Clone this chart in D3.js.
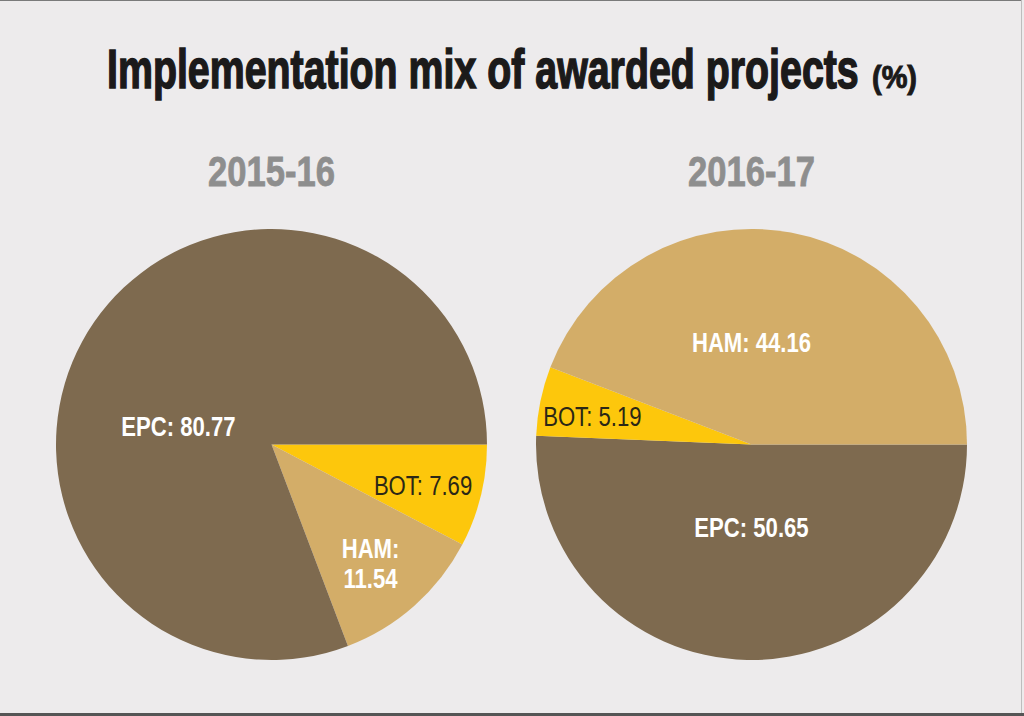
<!DOCTYPE html>
<html>
<head>
<meta charset="utf-8">
<script src="https://cdn.jsdelivr.net/npm/d3@7"></script>
<style>
  html, body { margin: 0; padding: 0; background: #edebec; }
  svg { display: block; }
  text { font-family: "Liberation Sans", Arial, sans-serif; }
</style>
</head>
<body>
<div id="chart"></div>
<script>
// data
const categories = ["EPC", "HAM", "BOT"];
const years = ["2015-16", "2016-17"];
const share2015 = [80.77, 11.54, 7.69];
const share2016 = [50.65, 44.16, 5.19];
// clockwise order of the slices, starting at 3 o'clock
const sliceOrder2015 = ["BOT", "HAM", "EPC"];
const sliceOrder2016 = ["EPC", "BOT", "HAM"];

const width = 1024, height = 716;
const radius = 215.5;
const pieCenters = [271.5, 751.5];
const pieY = 444.5;
const narrow = 0.79;   // fake a condensed face

const color = d3.scaleOrdinal()
  .domain(categories)
  .range(["#7e6a4f", "#d3ad68", "#fdc70c"]);

// label spots: [angle in degrees from 12 o'clock, fraction of radius]
const labelSpots = [
  { EPC: [281, 0.44], HAM: [140, 0.715], BOT: [105, 0.728] },
  { EPC: [180, 0.385], HAM: [0, 0.475], BOT: [280, 0.75] }
];
const twoLine = [{ HAM: true }, {}];

const svg = d3.select("#chart")
  .append("svg")
    .attr("width", width)
    .attr("height", height);

svg.append("rect")
  .attr("width", width)
  .attr("height", height)
  .attr("fill", "#edebec");

// frame
svg.append("line").attr("x1", 0).attr("x2", 1022).attr("y1", 0.5).attr("y2", 0.5)
  .attr("stroke", "#7a7a7a");
svg.append("line").attr("x1", 1021.5).attr("x2", 1021.5).attr("y1", 0).attr("y2", 716)
  .attr("stroke", "#bdbdbd");
svg.append("rect").attr("x", 0).attr("y", 713).attr("width", 1024).attr("height", 3)
  .attr("fill", "#555");

// squeeze a text horizontally so it spans w pixels from its anchor
function squeeze(g, t, x, y, w) {
  const natural = t.node().getComputedTextLength();
  g.attr("transform", `translate(${x},${y}) scale(${w / natural},1)`);
}

// title
const tg = svg.append("g");
const tt = tg.append("text")
  .attr("font-size", 56)
  .attr("fill", "#1b1a1a")
  .attr("stroke", "#1b1a1a")
  .attr("stroke-width", 1.6)
  .style("font-weight", "bold")
  .text("Implementation mix of awarded projects");
squeeze(tg, tt, 107, 88, 752);

const pg = svg.append("g");
const pt = pg.append("text")
  .attr("font-size", 31)
  .attr("fill", "#1b1a1a")
  .attr("stroke", "#1b1a1a")
  .attr("stroke-width", 1)
  .style("font-weight", "bold")
  .text("(%)");
squeeze(pg, pt, 872, 88, 45);

const pie = d3.pie()
  .value(d => d.value)
  .sort(null)
  .startAngle(Math.PI / 2)
  .endAngle(Math.PI / 2 + 2 * Math.PI);

const arc = d3.arc().innerRadius(0).outerRadius(radius);

const allShares = [share2015, share2016];
const allOrders = [sliceOrder2015, sliceOrder2016];

years.forEach((yr, i) => {
  const rows = allOrders[i].map(c => ({ cat: c, value: allShares[i][categories.indexOf(c)] }));

  // year heading
  const hg = svg.append("g");
  const ht = hg.append("text")
    .attr("font-size", 43)
    .attr("fill", "#8e8e8e")
    .attr("stroke", "#8e8e8e")
    .attr("stroke-width", 0.8)
    .style("font-weight", "bold")
    .text(yr);
  squeeze(hg, ht, pieCenters[i] - 63.5, 186, 127);

  const g = svg.append("g")
    .attr("transform", `translate(${pieCenters[i]},${pieY})`);

  g.selectAll("path")
    .data(pie(rows))
    .join("path")
      .attr("d", arc)
      .attr("fill", d => color(d.data.cat));

  const labels = g.selectAll("text.lbl")
    .data(pie(rows))
    .join("text")
      .attr("class", "lbl")
      .attr("text-anchor", "middle")
      .attr("font-size", 28)
      .attr("fill", d => d.data.cat === "BOT" ? "#2b2716" : "#ffffff")
      .style("font-weight", d => d.data.cat === "BOT" ? "normal" : "bold")
      .attr("transform", d => {
        const s = labelSpots[i][d.data.cat];
        const p = d3.pointRadial(s[0] * Math.PI / 180, s[1] * radius);
        return `translate(${p[0]},${p[1]}) scale(${narrow},1)`;
      });

  labels.each(function(d) {
    const t = d3.select(this);
    const txt = d.data.cat + ":";
    const num = d.data.value.toFixed(2);
    if (twoLine[i][d.data.cat]) {
      t.append("tspan").attr("x", 0).attr("y", -5).text(txt);
      t.append("tspan").attr("x", 0).attr("y", 25).text(num);
    } else {
      t.append("tspan").attr("x", 0).attr("y", 10).text(txt + " " + num);
    }
  });
});
</script>
</body>
</html>
